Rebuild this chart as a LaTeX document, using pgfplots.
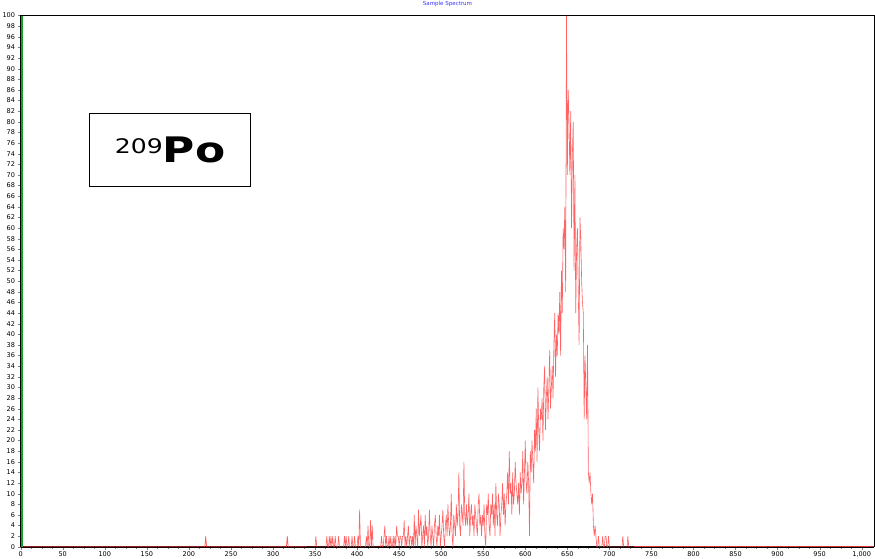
\documentclass[border=0pt]{standalone}
\usepackage{pgfplots}
\pgfplotsset{compat=1.18}
\usepackage{pgfplotstable}
\usepackage{fontspec}
\setmainfont{DejaVu Sans}
\definecolor{specred}{RGB}{255,60,60}
\definecolor{axgreen}{RGB}{20,160,40}
\pgfplotstableread[row sep=\\]{
y\\
0\\0\\0\\0\\0\\0\\0\\0\\0\\0\\
0\\2\\0\\0\\0\\0\\0\\0\\0\\0\\
0\\0\\0\\0\\2\\0\\0\\2\\0\\2\\
0\\2\\0\\0\\2\\0\\0\\0\\2\\0\\
0\\0\\0\\0\\0\\2\\0\\2\\0\\0\\
2\\0\\0\\0\\2\\0\\0\\2\\0\\0\\
0\\2\\0\\7\\0\\0\\0\\0\\0\\0\\
0\\2\\0\\4\\0\\0\\5\\0\\4\\0\\
0\\0\\0\\0\\0\\0\\0\\0\\0\\2\\
0\\0\\2\\4\\0\\2\\0\\0\\2\\0\\
2\\0\\0\\2\\0\\2\\0\\4\\2\\2\\
0\\2\\2\\0\\2\\2\\5\\0\\2\\0\\
2\\4\\0\\2\\2\\0\\2\\0\\6\\0\\
4\\2\\0\\7\\2\\4\\6\\0\\2\\4\\
0\\6\\2\\4\\0\\2\\7\\2\\0\\4\\
2\\0\\4\\6\\2\\0\\4\\2\\6\\0\\
2\\4\\7\\2\\0\\4\\6\\2\\8\\4\\
2\\4\\10\\2\\0\\6\\4\\2\\8\\4\\
6\\14\\4\\2\\8\\6\\4\\16\\6\\4\\
8\\4\\6\\10\\2\\6\\8\\4\\6\\2\\
8\\6\\4\\2\\8\\10\\4\\6\\2\\6\\
4\\8\\2\\0\\8\\6\\10\\4\\2\\8\\
6\\10\\4\\8\\2\\12\\6\\4\\10\\8\\
2\\6\\8\\12\\6\\10\\4\\8\\10\\14\\
8\\18\\10\\12\\6\\14\\8\\10\\16\\12\\
10\\8\\12\\6\\14\\10\\12\\18\\8\\14\\
20\\12\\10\\16\\12\\2\\18\\14\\20\\16\\
12\\22\\18\\26\\16\\30\\22\\18\\26\\24\\
28\\20\\30\\34\\22\\28\\32\\24\\30\\37\\
26\\30\\34\\28\\38\\44\\32\\40\\36\\44\\
40\\48\\36\\52\\44\\60\\56\\64\\48\\100\\
70\\86\\80\\70\\82\\60\\74\\80\\52\\70\\
44\\56\\60\\48\\38\\62\\58\\50\\46\\44\\
24\\36\\30\\24\\38\\14\\12\\14\\10\\8\\
10\\4\\2\\4\\2\\0\\0\\2\\0\\0\\
0\\0\\2\\0\\0\\2\\2\\0\\0\\2\\
0\\0\\0\\0\\0\\0\\0\\0\\0\\0\\
0\\0\\0\\0\\0\\0\\2\\0\\0\\0\\
0\\0\\2\\0\\0\\0\\0\\0\\0\\0\\
}\peakdata
\begin{document}
\begin{tikzpicture}
\begin{axis}[
  width=850pt, height=529pt, scale only axis,
  xmin=0, xmax=1015, ymin=0, ymax=100,
  xtick distance=50, minor x tick num=3,
  ytick distance=2,
  tick align=outside, major tick length=3pt, minor tick length=2pt,
  xtick pos=bottom, ytick pos=left,
  tick label style={font=\fontsize{6.5}{7}\selectfont},
  /pgf/number format/assume math mode=true,
  /pgf/number format/1000 sep={,},
  yticklabel style={inner sep=2.5pt},
  xticklabel style={inner sep=1.5pt},
  axis line style={line width=0.8pt},
  title={Sample Spectrum},
  title style={font=\fontsize{5.5}{6}\selectfont, text=blue!80, at={(0.5,1)}, anchor=south, yshift=2pt, inner sep=1pt},
  clip=false,
]
\draw[black, line width=1.4pt] ([yshift=-0.5pt]rel axis cs:0,0) -- ([yshift=-0.5pt]rel axis cs:1,0);
\addplot[specred, line width=0.7pt, opacity=0.85] coordinates {(0,0) (219,0) (220,2) (221,0) (316,0) (317,2) (318,0) (340,0)};
\addplot[specred, line width=0.6pt, opacity=0.8] table[x expr=\coordindex+340, y=y] {\peakdata};
\addplot[specred, line width=0.7pt, opacity=0.85] coordinates {(729,0) (1015,0)};
\draw[axgreen, line width=2pt] ([xshift=1.2pt]rel axis cs:0,0) -- ([xshift=1.2pt]rel axis cs:0,1);
\node[draw, line width=1.1pt, minimum width=161pt, minimum height=72pt, inner sep=0pt] at (rel axis cs:0.175,0.747)
  {\scalebox{1.25}[1]{\raisebox{9pt}{\fontsize{20}{22}\selectfont 209}\fontsize{35}{36}\selectfont\bfseries Po}};
\end{axis}
\end{tikzpicture}
\end{document}
